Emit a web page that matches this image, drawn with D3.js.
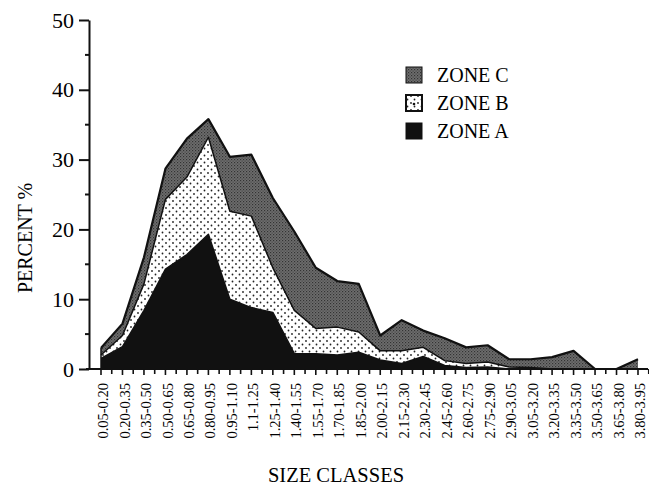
<!DOCTYPE html>
<html><head><meta charset="utf-8">
<script src="https://cdn.jsdelivr.net/npm/d3@7"></script>
<style>
body{margin:0;background:#fff}
svg{display:block}
text{font-family:"Liberation Serif","Times New Roman",serif;fill:#000}
</style>
</head><body>
<svg id="c" width="649" height="486"></svg>
<script>
const categories = ["0.05-0.20","0.20-0.35","0.35-0.50","0.50-0.65","0.65-0.80","0.80-0.95","0.95-1.10","1.1-1.25","1.25-1.40","1.40-1.55","1.55-1.70","1.70-1.85","1.85-2.00","2.00-2.15","2.15-2.30","2.30-2.45","2.45-2.60","2.60-2.75","2.75-2.90","2.90-3.05","3.05-3.20","3.20-3.35","3.35-3.50","3.50-3.65","3.65-3.80","3.80-3.95"];
const zoneA = [1.5, 3.2, 8.4, 14.3, 16.4, 19.3, 10.0, 8.8, 8.1, 2.2, 2.2, 2.0, 2.4, 1.3, 0.8, 1.8, 0.5, 0.2, 0.3, 0, 0, 0, 0, 0, 0, 0];
const zoneB = [0.5, 1.6, 3.8, 10.0, 11.1, 13.9, 12.6, 13.1, 6.4, 6.2, 3.6, 4.0, 2.9, 1.3, 1.8, 1.3, 0.7, 0.6, 0.7, 0.3, 0.2, 0, 0, 0, 0, 0];
const zoneC = [1.0, 1.7, 3.8, 4.4, 5.5, 2.6, 7.8, 8.8, 10.0, 11.3, 8.7, 6.6, 6.9, 2.2, 4.4, 2.4, 3.2, 2.3, 2.4, 1.1, 1.2, 1.7, 2.6, 0, 0, 1.4];
const yTicks = [0, 10, 20, 30, 40, 50];
const yMinorTicks = [5, 15, 25, 35, 45];
const seriesKeys = ["A", "B", "C"];
const legendLabels = ["ZONE C", "ZONE B", "ZONE A"];
const legendKeys = ["C", "B", "A"];
const yTitle = "PERCENT %";
const xTitle = "SIZE CLASSES";

const svg = d3.select("#c");
const defs = svg.append("defs");

const pB = defs.append("pattern").attr("id","patB").attr("patternUnits","userSpaceOnUse")
  .attr("width",7).attr("height",7);
pB.append("rect").attr("width",7).attr("height",7).attr("fill","#fff");
pB.append("circle").attr("cx",1.5).attr("cy",1.5).attr("r",0.9).attr("fill","#222");
pB.append("circle").attr("cx",5).attr("cy",5).attr("r",0.9).attr("fill","#222");

const pC = defs.append("pattern").attr("id","patC").attr("patternUnits","userSpaceOnUse")
  .attr("width",3).attr("height",3);
pC.append("rect").attr("width",3).attr("height",3).attr("fill","#6e6e6e");
pC.append("rect").attr("x",0).attr("y",0).attr("width",1.2).attr("height",1.2).attr("fill","#333");
pC.append("rect").attr("x",1.5).attr("y",1.5).attr("width",1.2).attr("height",1.2).attr("fill","#444");

const fills = {A:"#111", B:"url(#patB)", C:"url(#patC)"};

const x = d3.scalePoint().domain(categories).range([101, 638]);
const y = d3.scaleLinear().domain([0, 50]).range([369, 20]);

const rows = categories.map((c,i)=>({cat:c, A:zoneA[i], B:zoneB[i], C:zoneC[i]}));
const stacked = d3.stack().keys(seriesKeys)(rows);

const area = d3.area().x(d=>x(d.data.cat)).y0(d=>y(d[0])).y1(d=>y(d[1]));
const topLine = d3.line().x(d=>x(d.data.cat)).y(d=>y(d[1]));

const g = svg.append("g");
stacked.forEach(layer=>{
  g.append("path").attr("d", area(layer)).attr("fill", fills[layer.key]).attr("stroke","none");
});
stacked.forEach(layer=>{
  g.append("path").attr("d", topLine(layer)).attr("fill","none")
   .attr("stroke","#111").attr("stroke-width", layer.key==="C"?2.2:1.5)
   .attr("stroke-linejoin","round");
});
g.append("line").attr("x1",x(categories[0])).attr("x2",x(categories[0]))
  .attr("y1",y(0)).attr("y2",y(zoneA[0]+zoneB[0]+zoneC[0]))
  .attr("stroke","#111").attr("stroke-width",1.5);

const yAxis = d3.axisLeft(y).tickValues(yTicks).tickSize(10).tickSizeOuter(0).tickPadding(5);
const yg = svg.append("g").attr("transform","translate(89,0)").call(yAxis);
yg.select(".domain").attr("stroke","#111").attr("stroke-width",2);
yg.selectAll(".tick line").attr("stroke","#111").attr("stroke-width",2);
yg.selectAll(".tick text").style("font-size","22px").attr("fill","#000");
yg.selectAll(".minor").data(yMinorTicks).enter().append("line")
  .attr("x1",-4).attr("x2",0).attr("y1",d=>y(d)).attr("y2",d=>y(d))
  .attr("stroke","#111").attr("stroke-width",2);

const xg = svg.append("g");
xg.append("line").attr("x1",86).attr("x2",648).attr("y1",y(0)).attr("y2",y(0))
  .attr("stroke","#111").attr("stroke-width",2);
const step = x.step();
xg.selectAll(".xt").data(categories).enter().append("line")
  .attr("x1",d=>x(d)).attr("x2",d=>x(d)).attr("y1",y(0)).attr("y2",y(0)+6)
  .attr("stroke","#111").attr("stroke-width",1.6);
xg.selectAll(".xm").data(categories).enter().append("line")
  .attr("x1",d=>x(d)+step/2).attr("x2",d=>x(d)+step/2).attr("y1",y(0)).attr("y2",y(0)+5)
  .attr("stroke","#111").attr("stroke-width",1.6);
xg.selectAll(".xl").data(categories).enter().append("text")
  .attr("transform",d=>`translate(${x(d)+2},383) rotate(-90)`)
  .attr("text-anchor","end").attr("dy","0.35em")
  .style("font-size","14.5px").text(d=>d);

svg.append("text").attr("transform","translate(32,238) rotate(-90)")
  .attr("text-anchor","middle").style("font-size","20px").text(yTitle);
svg.append("text").attr("x",336).attr("y",482).attr("text-anchor","middle")
  .style("font-size","20.5px").text(xTitle);

const lg = svg.append("g");
legendKeys.forEach((k,i)=>{
  const cy = 75 + i*28;
  lg.append("rect").attr("x",406).attr("y",cy-8).attr("width",16).attr("height",16)
    .attr("fill",fills[k]).attr("stroke","#111").attr("stroke-width",k==="B"?2:1);
  if(k==="B") lg.append("circle").attr("cx",414).attr("cy",cy+1).attr("r",1.3).attr("fill","#111");
  lg.append("text").attr("x",437).attr("y",cy).attr("dy","0.35em")
    .style("font-size","20px").text(legendLabels[i]);
});
</script>
</body></html>
